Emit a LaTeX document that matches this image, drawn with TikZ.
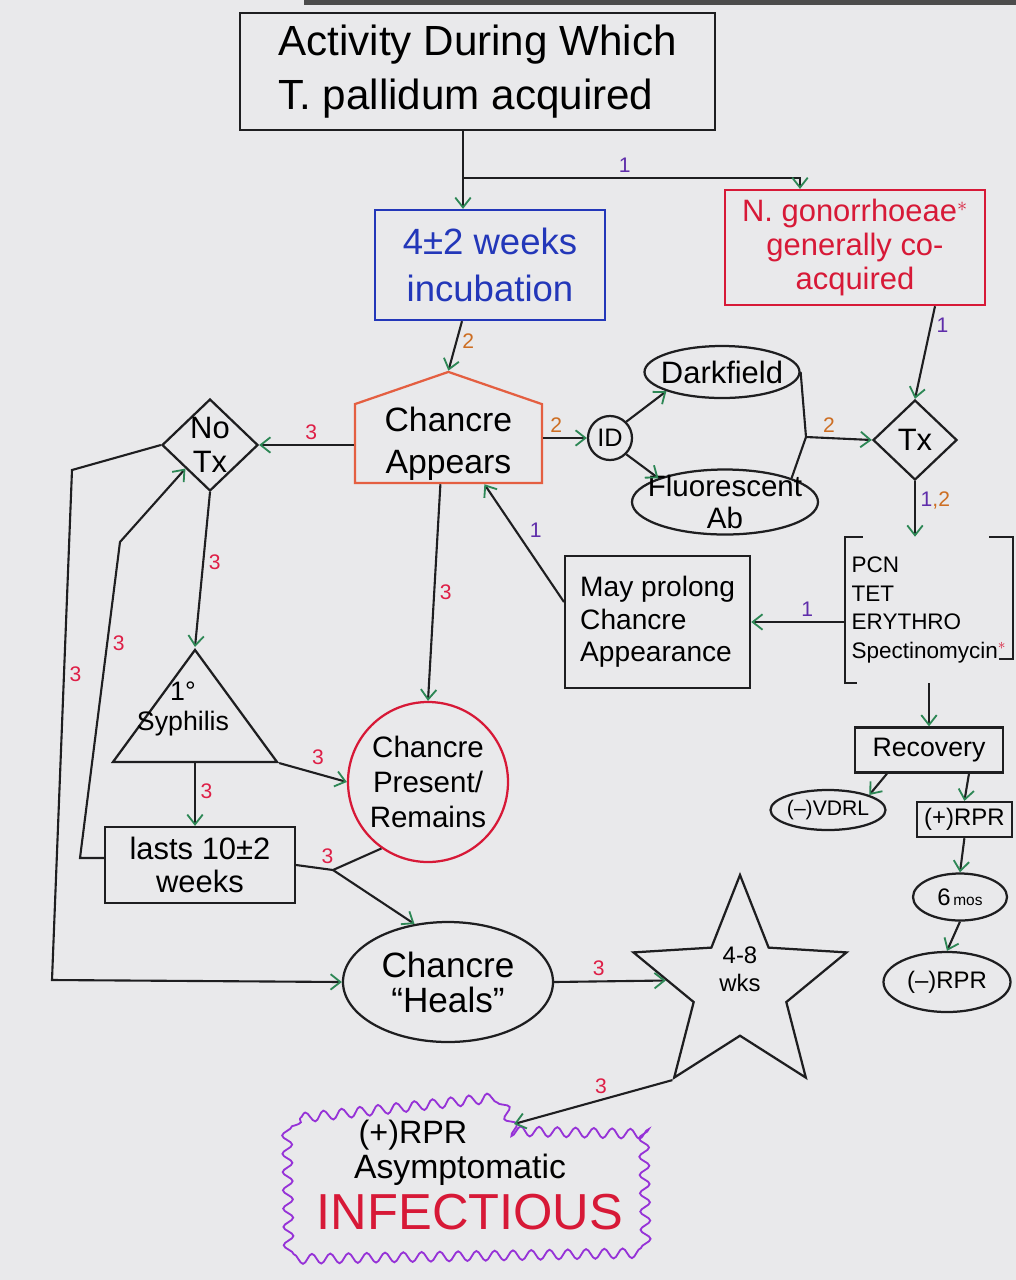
\documentclass[tikz,border=0pt]{standalone}
\usepackage{fontspec}
\setmainfont{Liberation Sans}
\usepackage{tikz}
\usetikzlibrary{arrows.meta,shapes.geometric,shapes.symbols,decorations.pathmorphing}

\definecolor{paper}{RGB}{233,233,235}
\definecolor{ink}{RGB}{30,30,32}
\definecolor{tipgreen}{RGB}{45,135,85}
\definecolor{pen3}{RGB}{222,30,70}
\definecolor{pen2}{RGB}{205,110,35}
\definecolor{pen1}{RGB}{95,45,170}
\definecolor{penblue}{RGB}{35,55,185}
\definecolor{penred}{RGB}{215,25,55}
\definecolor{penorange}{RGB}{228,95,65}
\definecolor{penpurple}{RGB}{150,50,215}

\newcommand{\hw}[2]{\fontsize{#1}{#2}\selectfont}

\tikzset{
	pen/.style={draw=ink, line width=1.6pt},
	box/.style={pen, rectangle, inner sep=0pt, align=center},
	oval/.style={pen, ellipse, inner sep=0pt},
	inside/.style n args={2}{label={[align=center,inner sep=0pt,font=#1]center:{#2}}},
	con/.style={draw=ink, line width=1.5pt},
	arr/.style={con, -{Straight Barb[color=tipgreen, length=7pt, width=11pt, line width=1.3pt]}},
	lbl1/.style={text=pen1, font=\hw{15}{15}},
	lbl2/.style={text=pen2, font=\hw{15}{15}},
	lbl3/.style={text=pen3, font=\hw{15}{15}}
}

\begin{document}
\begin{tikzpicture}
\fill[paper] (0,0) rectangle (25.4,-32);
\fill[black!70] (7.6,0) rectangle (25.4,-0.12);
\useasboundingbox (0,0) rectangle (25.4,-32);

\node[box, align=left, minimum width=11.875cm, minimum height=2.925cm, font=\hw{30}{38}] (act) at (11.94,-1.79) {Activity During Which\\T. pallidum acquired};
\node[box, draw=penblue, text=penblue, minimum width=5.75cm, minimum height=2.75cm, font=\hw{26}{34}] (inc) at (12.25,-6.625) {4±2 weeks\\incubation};
\node[box, draw=penred, text=penred, minimum width=6.5cm, minimum height=2.875cm, font=\hw{22}{24}] (ngon) at (21.375,-6.19) {N. gonorrhoeae$^{*}$\\generally co-\\acquired};
	\coordinate (split) at (11.575,-4.45);
\node[pen, draw=penorange, shape=signal, signal to=north, signal pointer angle=142, minimum width=4.675cm, minimum height=1.975cm, inner sep=0pt, inside={\hw{24}{30}}{Chancre\\Appears}] (chap) at (11.21,-11.09) {};
\node[pen, diamond, minimum width=2.4cm, minimum height=2.3cm, inner sep=0pt, inside={\hw{22}{24}}{No\\Tx}] (notx) at (5.25,-11.125) {};
\node[pen, circle, minimum size=1.1cm, inner sep=0pt, font=\hw{18}{18}] (idn) at (15.25,-10.95) {ID};
\node[oval, minimum width=3.875cm, minimum height=1.3cm, inside={\hw{22}{22}}{Darkfield}] (dark) at (18.05,-9.3) {};
\node[oval, minimum width=4.65cm, minimum height=1.625cm, inside={\hw{21}{23}}{Fluorescent\\Ab}] (fluor) at (18.125,-12.55) {};
\node[pen, diamond, minimum width=2.1cm, minimum height=2.0cm, inner sep=0pt, inside={\hw{22}{22}}{Tx}] (tx) at (22.875,-11.0) {};
	\coordinate (mrg) at (20.15,-10.925);
\node[align=left, inner sep=0pt, minimum width=4.2cm, minimum height=3.65cm, font=\hw{16}{20.5}] (pcn) at (23.225,-15.25) {PCN\\TET\\ERYTHRO\\Spectinomycin\textcolor{penred}{$^{*}$}};
\node[box, align=left, minimum width=4.625cm, minimum height=3.3cm, font=\hw{20}{23}] (may) at (16.44,-15.55) {May prolong\\Chancre\\Appearance};
\node[pen, draw=penred, circle, minimum size=4.0cm, inner sep=0pt, inside={\hw{21}{25}}{Chancre\\Present/\\Remains}] (pres) at (10.7,-19.55) {};
\node[pen, isosceles triangle, isosceles triangle stretches, shape border rotate=90, minimum width=4.1cm, minimum height=2.8cm, inner sep=0pt, anchor=apex] (syph) at (4.875,-16.175) {};
\node[align=center, font=\hw{19}{21}] (syphtxt) at ([xshift=-0.3cm,yshift=-1.55cm]syph.apex) {1°\\Syphilis};
\node[box, minimum width=4.75cm, minimum height=1.9cm, font=\hw{22}{23}] (lasts) at (5.0,-21.625) {lasts 10±2\\weeks};
\node[pen, ellipse, minimum width=5.25cm, minimum height=3.0cm, inner sep=0pt, inside={\hw{25}{25}}{Chancre\\“Heals”}] (heals) at (11.2,-24.55) {};
\node[pen, star, star points=5, star point ratio=2.3, minimum size=5.6cm, inner sep=0pt, label={[align=center,inner sep=0pt,font=\hw{17}{20},yshift=0.45cm]center:{4-8\\wks}}] (star) at (18.5,-24.675) {};
%rechts unten
\node[box, minimum width=3.7cm, minimum height=1.125cm, font=\hw{19}{19}] (recov) at (23.225,-18.75) {Recovery};
\node[oval, minimum width=2.875cm, minimum height=1.0cm, inside={\hw{15}{15}}{(--)VDRL}] (vdrl) at (20.7,-20.25) {};
\node[box, minimum width=2.375cm, minimum height=0.875cm, font=\hw{17}{17}] (rprp) at (24.11,-20.49) {(+)RPR};
\node[oval, minimum width=2.35cm, minimum height=1.175cm, inside={\hw{17}{17}}{6{\hw{11}{11}\,mos}}] (sixmo) at (24.0,-22.425) {};
\node[oval, minimum width=3.175cm, minimum height=1.5cm, inside={\hw{17}{17}}{(--)RPR}] (rprn) at (23.675,-24.55) {};
%Wolke
\node[font=\hw{23}{23}] (rprinf) at (10.325,-28.375) {(+)RPR};
\node[font=\hw{24}{24}] (asym) at (11.5,-29.25) {Asymptomatic};
\node[font=\hw{36}{36}, text=penred] (infec) at (11.75,-30.3) {INFECTIOUS};
	\coordinate (cnotch) at (12.85,-28.1);
\draw[penpurple, line width=1.3pt, decorate, decoration={snake, segment length=13pt, amplitude=3.5pt}]
	(7.5,-27.95) -- (12.3,-27.45) -- (12.675,-28.325) -- (16.1,-28.4) -- (16.15,-31.35) -- (7.55,-31.5) -- cycle;

%Ende Knoten
\draw[con] (act.south -| split) -- (split);
\draw[arr] (split) -- (split |- inc.north);
\draw[arr] (split) -| node[lbl1, above, pos=0.24]{1} ([xshift=-1.375cm]ngon.north);
\draw[arr] ([xshift=-0.7cm]inc.south) -- node[lbl2, right, pos=0.4]{2} (chap.north);
\draw[arr] (notx.east -| chap.west) -- node[lbl3, above, pos=0.45]{3} (notx.east);
\draw[arr] (chap.east |- idn.west) -- node[lbl2, above, pos=0.3]{2} (idn.west);
\draw[arr] (idn.north east) -- (dark.south west);
\draw[arr] (idn.south east) -- (fluor.north west);
\draw[con] (dark.east) -- (mrg) -- (fluor.north east);
\draw[arr] (mrg) -- node[lbl2, above, pos=0.35]{2} (tx.west);
\draw[arr] ([xshift=2cm]ngon.south) -- node[lbl1, right, pos=0.2]{1} (tx.north);
\draw[arr] (tx.south) -- node[right, pos=0.35, font=\hw{15}{15}]{\textcolor{pen1}{1}\textcolor{pen2}{,2}} (tx.south |- pcn.north);
\draw[pen] ([xshift=0.45cm]pcn.north west) -- (pcn.north west) -- (pcn.south west) -- ([xshift=0.3cm]pcn.south west);
\draw[pen] ([xshift=-0.6cm]pcn.north east) -- (pcn.north east) -- ([yshift=0.6cm]pcn.south east) -- ([xshift=-0.35cm,yshift=0.6cm]pcn.south east);
\draw[arr] (pcn.west |- may.east) -- node[lbl1, above, pos=0.4]{1} (may.east);
\draw[arr] ([yshift=0.5cm]may.west) -- node[lbl1, above right, pos=0.5]{1} ([xshift=0.9cm]chap.south);
\draw[arr] ([xshift=-0.2cm]chap.south) -- node[lbl3, right, pos=0.5]{3} (pres.north);
\draw[arr] (notx.south) -- node[lbl3, right, pos=0.45]{3} (syph.apex);
\draw[arr] (syph.right corner) -- node[lbl3, above right, pos=0.4]{3} (pres.west);
\draw[arr] (syph.lower side) -- node[lbl3, right, pos=0.45]{3} (syph.lower side |- lasts.north);
	\coordinate (lpa) at (2.0,-21.45);
	\coordinate (lpb) at (3.0,-13.55);
\draw[arr] (lasts.west |- lpa) -- (lpa) -- node[lbl3, right, pos=0.68]{3} (lpb) -- (notx.south west);
	\coordinate (opa) at (1.8,-11.75);
	\coordinate (opb) at (1.3,-24.5);
\draw[arr] (notx.west) -- (opa) -- node[lbl3, right, pos=0.4]{3} (opb) -- (heals.west);
	\coordinate (jn) at (8.325,-21.75);
\draw[con] (lasts.east) -- node[lbl3, above, pos=0.85]{3} (jn) -- (pres.235);
\draw[arr] (jn) -- (heals.120);
\draw[arr] (heals.east) -- node[lbl3, above, pos=0.4]{3} (star.175);
\draw[arr] (star.outer point 3) -- node[lbl3, above, pos=0.45]{3} (cnotch);
%Heilung
\draw[arr] (pcn.south) -- (recov.north);
\draw[arr] ([xshift=-1.05cm]recov.south) -- (vdrl.20);
\draw[arr] ([xshift=1.0cm]recov.south) -- (rprp.north);
\draw[arr] (rprp.south) -- (sixmo.north);
\draw[arr] (sixmo.south) -- (rprn.north);
\end{tikzpicture}
\end{document}
